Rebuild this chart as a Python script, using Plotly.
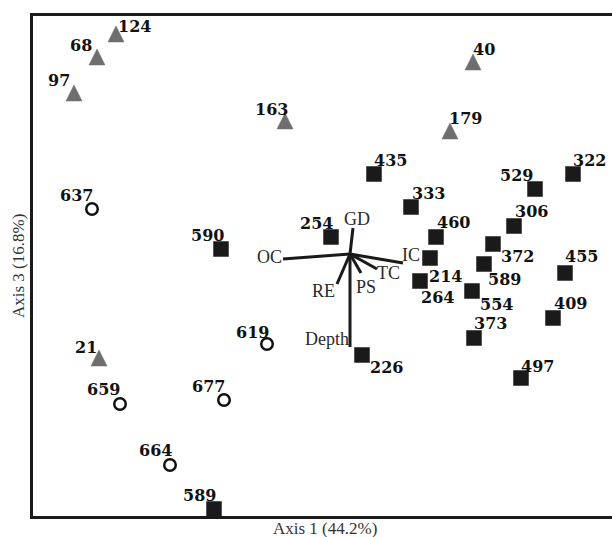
import plotly.graph_objects as go

# ---- data (ordination scores) ----
tri_labels = ["124", "68", "97", "163", "40", "179", "21"]
tri_x = [-2.34, -2.53, -2.76, -0.65, 1.23, 1.00, -2.51]
tri_y = [2.20, 1.97, 1.61, 1.33, 1.92, 1.23, -1.04]

circ_labels = ["637", "619", "659", "677", "664"]
circ_x = [-2.58, -0.83, -2.30, -1.26, -1.80]
circ_y = [0.45, -0.90, -1.50, -1.46, -2.11]

sq_labels = ["590", "589", "254", "435", "333", "460", "214", "264", "372", "589",
             "554", "306", "529", "322", "455", "409", "373", "497", "226"]
sq_x = [-1.29, -1.36, -0.19, 0.24, 0.61, 0.86, 0.80, 0.70, 1.43, 1.34,
        1.22, 1.64, 1.85, 2.23, 2.15, 2.03, 1.24, 1.71, 0.12]
sq_y = [0.05, -2.55, 0.17, 0.80, 0.47, 0.17, -0.04, -0.27, 0.10, -0.10,
        -0.37, 0.28, 0.65, 0.80, -0.19, -0.64, -0.84, -1.24, -1.01]

vec_labels = ["GD", "OC", "IC", "TC", "PS", "RE", "Depth"]
vec_x = [0.03, -0.67, 0.53, 0.27, 0.11, -0.13, 0.00]
vec_y = [0.26, -0.05, -0.09, -0.15, -0.19, -0.30, -0.93]

x_title = "Axis 1 (44.2%)"
y_title = "Axis 3 (16.8%)"

# ---- label offsets (pixels, x right, y down) ----
tri_off = [(18, -8), (-16, -12), (-15, -13), (-14, -12), (11, -13), (15, -13), (-13, -11)]
circ_off = [(-16, -14), (-15, -12), (-17, -15), (-16, -14), (-15, -15)]
sq_off = [(-14, -14), (-15, -14), (-15, -14), (16, -14), (17, -14), (17, -15), (15, 18),
          (17, 16), (24, 12), (20, 15), (24, 13), (17, -15), (-19, -14), (16, -14),
          (16, -17), (17, -15), (16, -15), (16, -12), (24, 12)]
vec_off = [(4, -9), (-14, -2), (8, -8), (11, 4), (5, 14), (-14, 7), (-23, -8)]

X_RANGE = [-3.17, 2.62]
Y_RANGE = [-2.62, 2.38]
W, H = 612, 537
M = dict(l=33, r=0, t=16, b=21)
PX_PER_Y = (H - M["t"] - M["b"]) / (Y_RANGE[1] - Y_RANGE[0])

TRI_SIZE = 16  # 'arrow-up' symbol has its apex at the point; centre it on the score
tri_apex_y = [y + (TRI_SIZE / 2) / PX_PER_Y for y in tri_y]

fig = go.Figure()

# vectors
vx, vy = [], []
for x, y in zip(vec_x, vec_y):
    vx += [0, x, None]
    vy += [0, y, None]
fig.add_trace(go.Scatter(x=vx, y=vy, mode="lines",
                         line=dict(color="#1a1a1a", width=3), hoverinfo="skip"))

fig.add_trace(go.Scatter(x=tri_x, y=tri_apex_y, mode="markers",
                         marker=dict(symbol="arrow-up", size=TRI_SIZE, color="#6e6e6e",
                                     line=dict(color="#6e6e6e", width=0.5))))
fig.add_trace(go.Scatter(x=circ_x, y=circ_y, mode="markers",
                         marker=dict(symbol="circle", size=11.5, color="white",
                                     line=dict(color="#111111", width=2.5))))
fig.add_trace(go.Scatter(x=sq_x, y=sq_y, mode="markers",
                         marker=dict(symbol="square", size=15, color="#1a1a1a",
                                     line=dict(color="#1a1a1a", width=0.5))))

num_font = dict(family="DejaVu Serif", size=16, color="#111111")
ann = []
for labs, xs, ys, offs in [(tri_labels, tri_x, tri_y, tri_off),
                           (circ_labels, circ_x, circ_y, circ_off),
                           (sq_labels, sq_x, sq_y, sq_off)]:
    for t, x, y, (dx, dy) in zip(labs, xs, ys, offs):
        ann.append(dict(x=x, y=y, text="<b>" + t + "</b>", showarrow=False,
                        xshift=dx, yshift=-dy, font=num_font,
                        xanchor="center", yanchor="middle"))

vec_font = dict(family="Liberation Serif", size=18, color="#2a2a2a")
for t, x, y, (dx, dy) in zip(vec_labels, vec_x, vec_y, vec_off):
    ann.append(dict(x=x, y=y, text=t, showarrow=False, xshift=dx, yshift=-dy,
                    font=vec_font, xanchor="center", yanchor="middle"))

title_font = dict(family="Liberation Serif", size=17, color="#333333")
ann.append(dict(x=0.5, y=0, xref="paper", yref="paper", text=x_title, showarrow=False,
                yshift=-12, xshift=2, font=title_font, xanchor="center", yanchor="middle"))
ann.append(dict(x=0, y=0.5, xref="paper", yref="paper", text=y_title, showarrow=False,
                xshift=-15, textangle=-90, font=title_font, xanchor="center", yanchor="middle"))

fig.update_layout(
    width=W, height=H,
    margin=M,
    paper_bgcolor="white", plot_bgcolor="white",
    showlegend=False,
    annotations=ann,
    xaxis=dict(range=X_RANGE, showgrid=False, zeroline=False, showticklabels=False,
               ticks="", showline=True, linewidth=3, linecolor="#1a1a1a", mirror=True),
    yaxis=dict(range=Y_RANGE, showgrid=False, zeroline=False, showticklabels=False,
               ticks="", showline=True, linewidth=3, linecolor="#1a1a1a", mirror=False),
)

fig.write_html("out.html", config={"displayModeBar": False},
               post_script="document.body.style.margin='0';document.body.style.overflow='hidden';")
